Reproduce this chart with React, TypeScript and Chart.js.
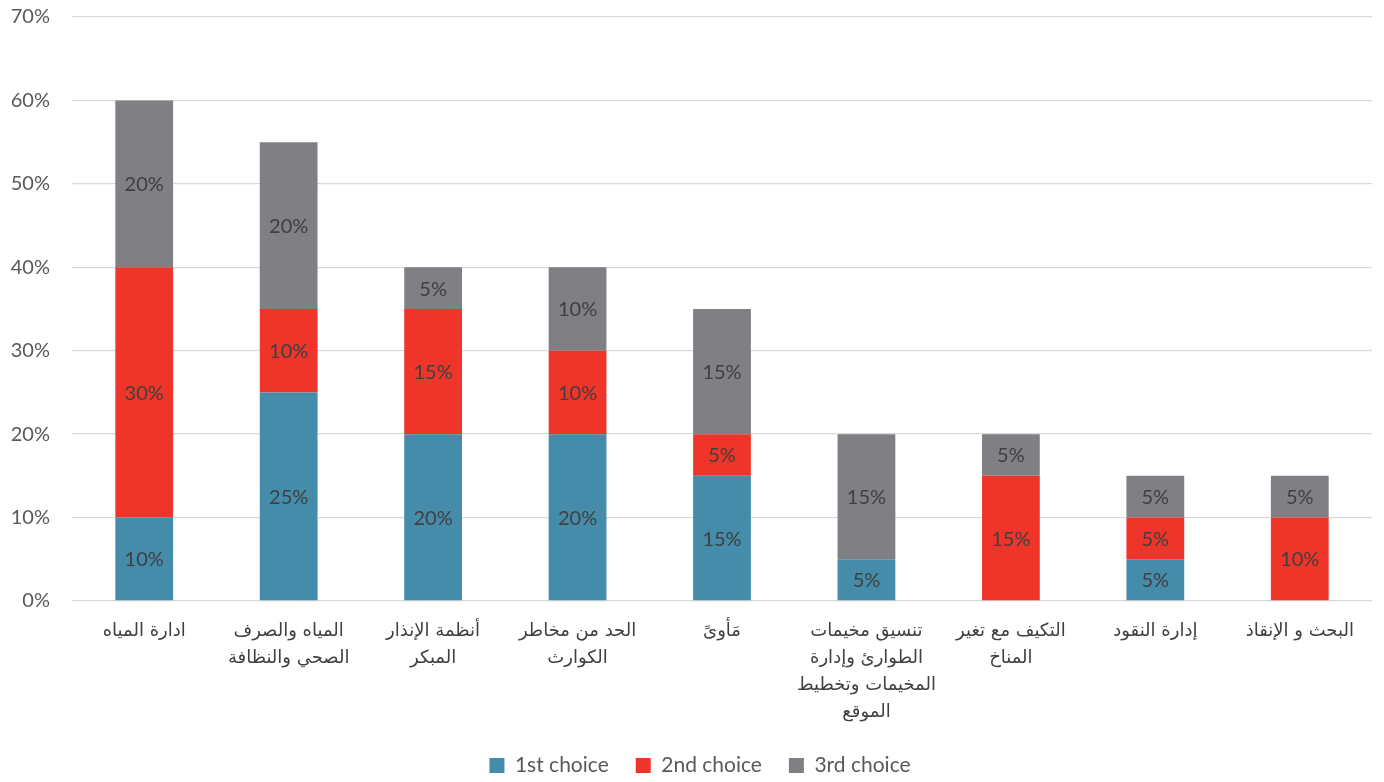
import React, { useEffect, useRef } from "react";
import { Chart, registerables } from "chart.js";

Chart.register(...registerables);

const categories: (string | string[])[] = [
  "ادارة المياه",
  ["المياه والصرف", "الصحي والنظافة"],
  ["أنظمة الإنذار", "المبكر"],
  ["الحد من مخاطر", "الكوارث"],
  "مَأوىً",
  ["تنسيق مخيمات", "الطوارئ وإدارة", "المخيمات وتخطيط", "الموقع"],
  ["التكيف مع تغير", "المناخ"],
  "إدارة النقود",
  "البحث و الإنقاذ",
];

const firstChoice = [10, 25, 20, 20, 15, 5, 0, 5, 0];
const secondChoice = [30, 10, 15, 10, 5, 0, 15, 5, 10];
const thirdChoice = [20, 20, 5, 10, 15, 15, 5, 5, 5];

const yTicks = [0, 10, 20, 30, 40, 50, 60, 70];

const FONT = "Lato, 'DejaVu Sans', sans-serif";
const ARABIC_FONT = "'DejaVu Sans', 'Liberation Sans', sans-serif";

const barLabelPlugin = {
  id: "barLabels",
  afterDatasetsDraw(chart: any) {
    const ctx = chart.ctx;
    ctx.save();
    ctx.font = `20px ${FONT}`;
    ctx.fillStyle = "#404040";
    ctx.textAlign = "center";
    ctx.textBaseline = "middle";
    chart.data.datasets.forEach((ds: any, di: number) => {
      const meta = chart.getDatasetMeta(di);
      meta.data.forEach((bar: any, i: number) => {
        const v = ds.data[i];
        if (!v) return;
        const y = (bar.y + bar.base) / 2;
        ctx.fillText(`${v}%`, bar.x, y + 1);
      });
    });
    ctx.restore();
  },
};

const legendShiftPlugin = {
  id: "legendShift",
  afterLayout(chart: any) {
    if (chart.legend) {
      chart.legend.left += 14;
      chart.legend.right += 14;
    }
  },
};

export default function App() {
  const ref = useRef<HTMLCanvasElement | null>(null);
  useEffect(() => {
    if (!ref.current) return;
    const chart = new Chart(ref.current, {
      type: "bar",
      data: {
        labels: categories,
        datasets: [
          { label: "1st choice", data: firstChoice, backgroundColor: "#458BAA" },
          { label: "2nd choice", data: secondChoice, backgroundColor: "#EF3429" },
          { label: "3rd choice", data: thirdChoice, backgroundColor: "#7F7F84" },
        ],
      },
      options: {
        animation: false,
        responsive: true,
        maintainAspectRatio: false,
        layout: { padding: { top: 0, right: 12, left: 0, bottom: -4 } },
        datasets: { bar: { categoryPercentage: 0.8, barPercentage: 0.5 } },
        plugins: {
          tooltip: { enabled: false },
          legend: {
            position: "bottom",
            labels: {
              boxWidth: 15,
              boxHeight: 15,
              padding: 27,
              color: "#595959",
              font: { family: FONT, size: 21 },
            },
          },
        },
        scales: {
          x: {
            stacked: true,
            grid: { display: false },
            border: { display: false },
            afterFit: (scale: any) => {
              scale.height = 127;
            },
            ticks: {
              color: "#404040",
              font: { family: ARABIC_FONT, size: 18, lineHeight: 1.5 },
              maxRotation: 0,
              autoSkip: false,
              padding: 9,
            },
          },
          y: {
            stacked: true,
            min: 0,
            max: 70,
            afterBuildTicks: (scale: any) => {
              scale.ticks = yTicks.map((v) => ({ value: v }));
            },
            afterFit: (scale: any) => {
              scale.width = 72;
              scale.paddingTop = 17;
            },
            grid: { color: "#D9D9D9", lineWidth: 1.3, drawTicks: false },
            border: { display: false },
            ticks: {
              color: "#595959",
              font: { family: FONT, size: 20 },
              padding: 22,
              callback: (v: any) => `${v}%`,
            },
          },
        },
      },
      plugins: [barLabelPlugin, legendShiftPlugin],
    });
    return () => chart.destroy();
  }, []);
  return (
    <div style={{ position: "absolute", left: 0, top: 0, width: 1384, height: 782 }}>
      <canvas ref={ref} />
    </div>
  );
}
